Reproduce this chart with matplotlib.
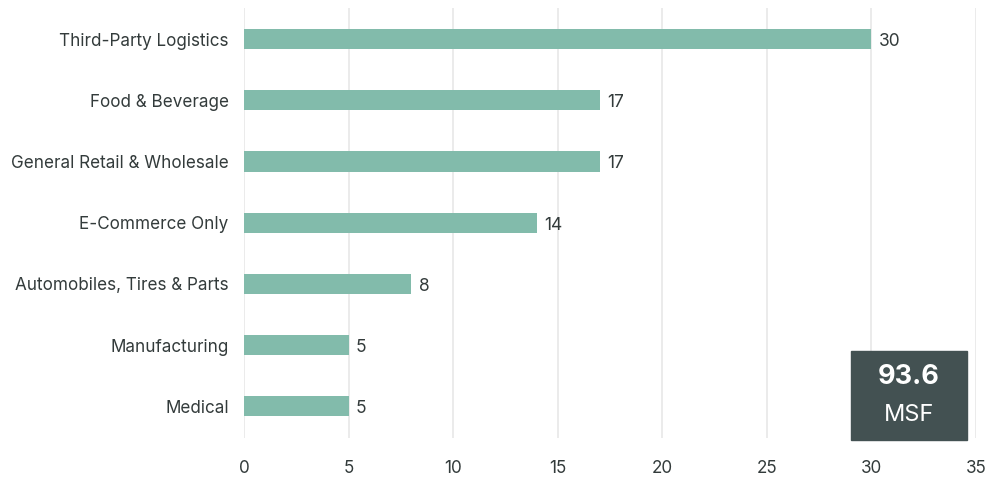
import matplotlib
matplotlib.use("Agg")
from matplotlib import pyplot as plt
from matplotlib.patches import Rectangle

categories = ["Third-Party Logistics", "Food & Beverage", "General Retail & Wholesale",
              "E-Commerce Only", "Automobiles, Tires & Parts", "Manufacturing", "Medical"]
values = [30, 17, 17, 14, 8, 5, 5]
xticks = [0, 5, 10, 15, 20, 25, 30, 35]
total_label = "93.6"
unit_label = "MSF"

plt.rcParams['font.family'] = ['Inter', 'DejaVu Sans']
text_color = "#333b3b"
bar_color = "#82bbab"
box_color = "#435152"

fig = plt.figure(figsize=(10, 4.84), dpi=100)
ax = fig.add_axes([0.244, 0.095, 0.732, 0.888])

ypos = list(range(len(categories)))
ax.barh(ypos, values, height=0.33, color=bar_color, zorder=2)
for y, v in zip(ypos, values):
    ax.text(v + 0.35, y + 0.04, str(v), va='center', ha='left', fontsize=12.5, color=text_color)

ax.set_xlim(0, 35)
ax.set_ylim(6.52, -0.505)
ax.set_xticks(xticks)
ax.set_yticks(ypos)
ax.set_yticklabels(categories)
ax.tick_params(axis='both', length=0, labelsize=12.3, colors=text_color)
ax.tick_params(axis='y', pad=11)
ax.tick_params(axis='x', pad=16)
ax.grid(axis='x', color='#e8e8e8', linewidth=1.2, zorder=0)
for s in ax.spines.values():
    s.set_visible(False)

# total box in lower right
ax.add_patch(Rectangle((29.0, 5.09), 5.58, 1.47, color=box_color, zorder=3, clip_on=False))
ax.text(31.79, 5.53, total_label, ha='center', va='center', fontsize=19.5, fontweight='bold',
        color='white', zorder=4)
ax.text(31.79, 6.15, unit_label, ha='center', va='center', fontsize=17, color='white', zorder=4)

fig.savefig("out.png", dpi=100, facecolor='white')
